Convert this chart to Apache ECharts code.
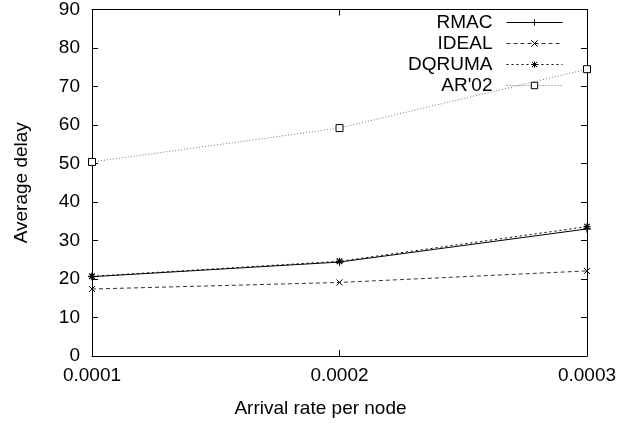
<!DOCTYPE html>
<html>
<head>
<meta charset="utf-8">
<script src="https://cdn.jsdelivr.net/npm/echarts@6/dist/echarts.min.js"></script>
<style>
html,body{margin:0;padding:0;background:#fff;}
#chart{width:634px;height:423px;}
</style>
</head>
<body>
<div id="chart"></div>
<script>
const categories = ['0.0001', '0.0002', '0.0003'];
const rmac = [20.6, 24.4, 33.0];
const ideal = [17.4, 19.1, 22.1];
const dqruma = [20.7, 24.6, 33.6];
const ar02 = [50.4, 59.2, 74.5];
const yTicks = { min: 0, max: 90, interval: 10 };

const FONT = 'Liberation Sans, Arial, Helvetica, sans-serif';
const FS = 19;
const PLUS = 'path://M0,5L10,5M5,0L5,10';
const CROSS = 'path://M0,0L10,10M10,0L0,10';
const STAR = 'path://M0,5L10,5M5,0L5,10M1,1L9,9M9,1L1,9';

const chart = echarts.init(document.getElementById('chart'), null, { renderer: 'canvas' });

const axisLine = { show: true, onZero: false, lineStyle: { color: '#000', width: 1 } };
const tick = { show: true, inside: true, length: 6, lineStyle: { color: '#000', width: 1 } };

function lineSeries(name, data, symbol, size, lineColor, lineType, symStyle) {
  return {
    name: name, type: 'line', data: data,
    xAxisIndex: 0, yAxisIndex: 0,
    symbol: symbol, symbolSize: size, showAllSymbol: true,
    lineStyle: { color: lineColor, width: 1, type: lineType },
    itemStyle: symStyle,
    emphasis: { disabled: true },
    animation: false
  };
}

chart.setOption({
  animation: false,
  textStyle: { fontFamily: FONT },
  grid: { left: 92, right: 47, top: 7, bottom: 66, containLabel: false },
  legend: {
    orient: 'vertical', right: 71, top: 12, align: 'right', padding: 0,
    itemWidth: 56, itemHeight: 8, itemGap: 0,
    lineStyle: { width: 1 },
    itemStyle: { borderWidth: 1 },
    textStyle: { fontFamily: FONT, fontSize: FS, color: '#000', padding: [0, 9, 0, 0], lineHeight: 21 },
    data: ['RMAC', 'IDEAL', 'DQRUMA', "AR'02"]
  },
  xAxis: [
    {
      type: 'category', data: categories, boundaryGap: false, position: 'bottom',
      name: 'Arrival rate per node', nameLocation: 'middle', nameGap: 43,
      nameTextStyle: { fontFamily: FONT, fontSize: FS, color: '#000', padding: [0, 38, 0, 0] },
      axisLine: axisLine, axisTick: tick,
      axisLabel: { fontFamily: FONT, fontSize: FS, color: '#000', margin: 10 },
      splitLine: { show: false }
    },
    {
      type: 'category', data: categories, boundaryGap: false, position: 'top',
      axisLine: axisLine, axisTick: tick, axisLabel: { show: false }, splitLine: { show: false }
    }
  ],
  yAxis: [
    {
      type: 'value', min: yTicks.min, max: yTicks.max, interval: yTicks.interval, position: 'left',
      name: 'Average delay', nameLocation: 'middle', nameGap: 61,
      nameTextStyle: { fontFamily: FONT, fontSize: FS, color: '#000' },
      axisLine: axisLine, axisTick: tick,
      axisLabel: { fontFamily: FONT, fontSize: FS, color: '#000', margin: 12 },
      splitLine: { show: false }
    },
    {
      type: 'value', min: yTicks.min, max: yTicks.max, interval: yTicks.interval, position: 'right',
      axisLine: axisLine, axisTick: tick, axisLabel: { show: false }, splitLine: { show: false }
    }
  ],
  series: [
    lineSeries('RMAC', rmac, PLUS, 8, '#000', 'solid', { color: 'none', borderColor: '#000', borderWidth: 1 }),
    lineSeries('IDEAL', ideal, CROSS, 6, '#333', [4, 3], { color: 'none', borderColor: '#000', borderWidth: 1 }),
    lineSeries('DQRUMA', dqruma, STAR, 7, '#000', [2, 3], { color: 'none', borderColor: '#000', borderWidth: 1.2 }),
    lineSeries("AR'02", ar02, 'rect', 7, '#777', [1, 2], { color: '#fff', borderColor: '#000', borderWidth: 1 })
  ]
});
</script>
</body>
</html>
